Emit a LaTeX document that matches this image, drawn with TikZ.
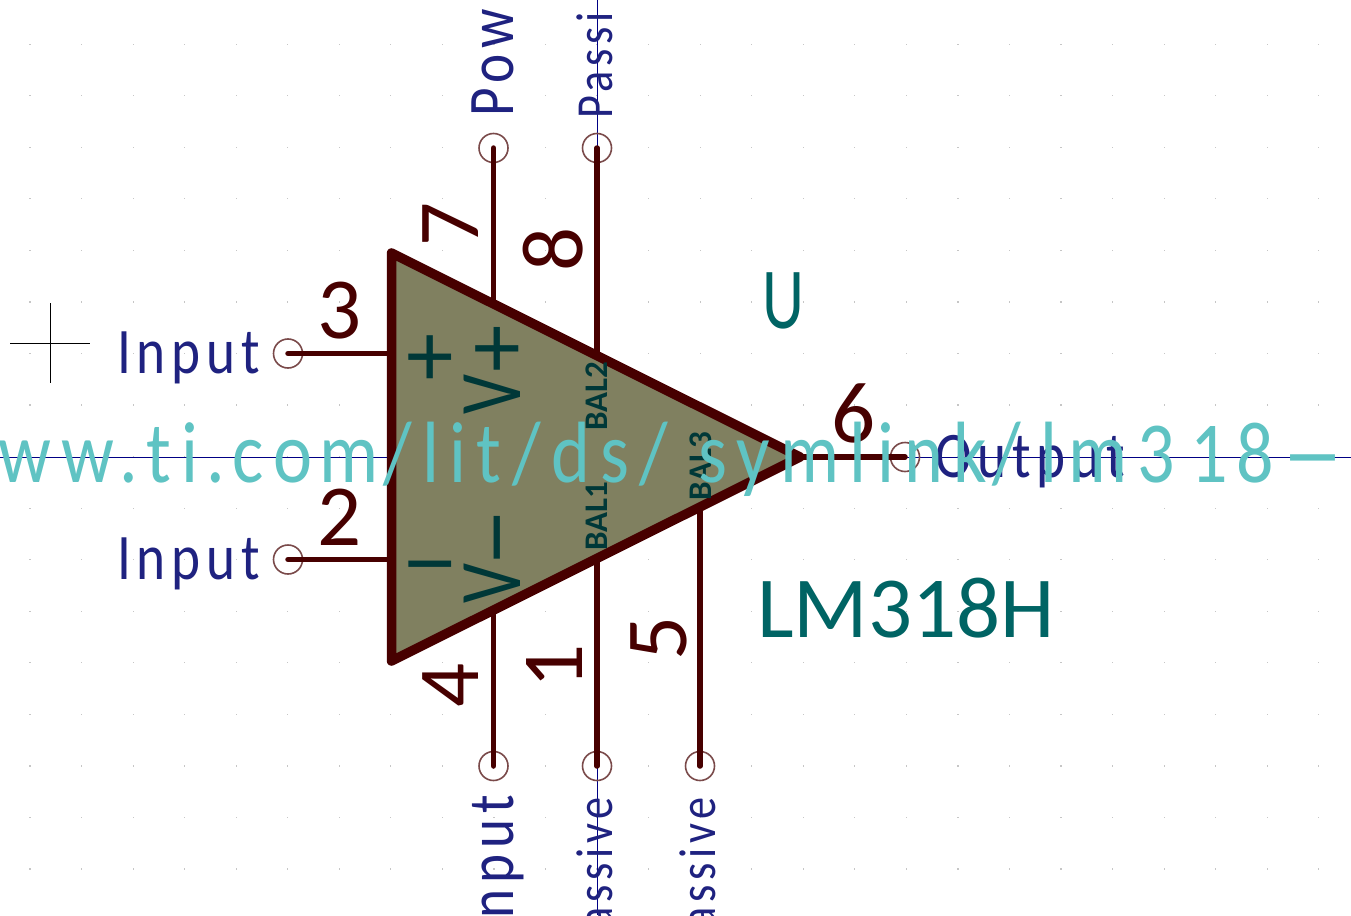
\documentclass[tikz,border=0pt]{standalone}
\usepackage{fontspec}
\setmainfont[Ligatures=NoCommon]{Carlito}
\newfontfamily\urlfont[Ligatures=NoCommon, FakeStretch=0.85, LetterSpace=12]{Carlito}
\newfontfamily\typefont[Ligatures=NoCommon, FakeStretch=0.85, LetterSpace=9]{Carlito}
\newfontfamily\signfont{Liberation Sans}
\usepackage{xcolor}
\usetikzlibrary{calc}
\definecolor{wirecol}{HTML}{470000}
\definecolor{bodycol}{HTML}{808060}
\definecolor{pinringcol}{HTML}{7A4A4A}
\definecolor{typecol}{HTML}{1F2280}
\definecolor{axiscol}{HTML}{000084}
\definecolor{innercol}{HTML}{003838}
\definecolor{refcol}{HTML}{006464}
\definecolor{urlcol}{HTML}{5FC3C3}

\begin{document}
\begin{tikzpicture}[x=1pt, y=-1pt,
    pinring/.style={circle, draw=pinringcol, line width=1.6pt, minimum size=29pt, inner sep=0pt},
    wire/.style={draw=wirecol, line width=5.5pt, line cap=round},
    pintype/.style={text=typecol, inner sep=0pt, anchor=base west, font=\typefont\fontsize{65}{70}\selectfont},
    pintypesmall/.style={pintype, font=\typefont\fontsize{52}{60}\selectfont},
    pinnum/.style={text=wirecol, inner sep=0pt, anchor=base west, font=\fontsize{87}{90}\selectfont},
    inner/.style={text=innercol, inner sep=0pt, anchor=base west, font=\fontsize{88}{90}\selectfont},
    sign/.style={inner, font=\signfont\fontsize{88}{90}\selectfont},
    balname/.style={text=innercol, inner sep=0pt, anchor=base west, rotate=90, font=\bfseries\fontsize{33}{40}\selectfont},
    refname/.style={text=refcol, inner sep=0pt, anchor=base west, font=\fontsize{87}{90}\selectfont}]
    \useasboundingbox (0,0) rectangle (1351,915);
    \clip (0,0) rectangle (1351,915);
    \fill[white] (0,0) rectangle (1351,915);

    % Griglia di punti
    \foreach \i in {0,...,25} {
        \foreach \j in {-6,...,10} {
            \fill[gray!45] ({30+51.55*\i-0.6},{353.5+51.55*\j-0.6}) rectangle +(1.2,1.2);
        }
    }

    % Assi e croce
    \draw[axiscol, line width=1pt] (0,457) -- (1351,457);
    \draw[axiscol, line width=1pt] (597,0) -- (597,915);
    \draw[black, line width=0.8pt] (10,343) -- (90,343);
    \draw[black, line width=0.8pt] (50,303) -- (50,383);

    % Vertici del triangolo e attacchi dei pin
    \coordinate (topleft) at (391.5,253);
    \coordinate (botleft) at (391.5,661);
    \coordinate (tip) at (800,457);
    \coordinate (end3) at (391.5,353.5);
    \coordinate (end2) at (391.5,559.5);
    \coordinate (end7) at (493.5,304);
    \coordinate (end8) at (597,356);
    \coordinate (end4) at (493.5,610);
    \coordinate (end1) at (597,558);
    \coordinate (end5) at (700,506);

    % Cerchietti dei pin
    \node[pinring] (pin3) at (288,353.5) {};
    \node[pinring] (pin2) at (288,559.5) {};
    \node[pinring] (pin7) at (493.5,148) {};
    \node[pinring] (pin8) at (597,148) {};
    \node[pinring] (pin4) at (493.5,766) {};
    \node[pinring] (pin1) at (597,766) {};
    \node[pinring] (pin5) at (700,766) {};
    \node[pinring] (pin6) at (905,457) {};

    % Pin
    \draw[wire] (pin3.center) -- (end3);
    \draw[wire] (pin2.center) -- (end2);
    \draw[wire] (pin7.center) -- (end7);
    \draw[wire] (pin8.center) -- (end8);
    \draw[wire] (pin4.center) -- (end4);
    \draw[wire] (pin1.center) -- (end1);
    \draw[wire] (pin5.center) -- (end5);
    \draw[wire] (pin6.center) -- (tip);

    % Corpo
    \filldraw[draw=wirecol, fill=bodycol, line width=9.5pt, line join=round]
        (topleft) -- (tip) -- (botleft) -- cycle;

    % Tipi dei pin
    \node[pintype] (type3) at (117,373) {Input};
    \node[pintype] (type2) at (117,579) {Input};
    \node[pintype] (type6) at (935,477) {Output};
    \node[pintype, rotate=90] (type7) at (513,117) {Pow};
    \node[pintypesmall, rotate=90] (type8) at (612,119) {Passi};
    \node[pintype, rotate=90, anchor=base east] (type4) at (513,795) {nput};
    \node[pintypesmall, rotate=90, anchor=base east] (type1) at (612,797) {assive};
    \node[pintypesmall, rotate=90, anchor=base east] (type5) at (715,797) {assive};

    % Numeri dei pin
    \node[pinnum] (num3) at (317,338) {3};
    \node[pinnum] (num2) at (317,545) {2};
    \node[pinnum] (num6) at (831,442) {6};
    \node[pinnum, rotate=90] (num7) at (478,247) {7};
    \node[pinnum, rotate=90] (num8) at (582,272) {8};
    \node[pinnum, rotate=90] (num4) at (478,708) {4};
    \node[pinnum, rotate=90] (num1) at (582,689) {1};
    \node[pinnum, rotate=90] (num5) at (686,661) {5};

    % Nomi interni
    \node[sign] (plus) at (404,386) {+};
    \node[sign] (minus) at (404,593) {−};
    \node[inner, rotate=90] (vplus) at (520,415)
        {\scalebox{.8}[1]{V}\raisebox{-6pt}{\signfont +}};
    \node[inner, rotate=90] (vminus) at (520,604)
        {\scalebox{.8}[1]{V}\raisebox{-6pt}{\signfont −}};
    \node[balname] (bal2) at (607,431) {BAL2};
    \node[balname] (bal1) at (607,551) {BAL1};
    \node[balname] (bal3) at (711,501) {BAL3};

    % Riferimento e valore
    \node[refname] (refdes) at (762,328) {\scalebox{.75}[1]{U}};
    \node[refname] (value) at (757,637) {LM318H};

    % Indirizzo in sovrimpressione
    \node[inner sep=0pt, anchor=base west, text=urlcol, font=\urlfont\fontsize{87}{90}\selectfont] (url) at (-2,482)
        {ww\kern5pt.\kern8pt ti\kern8pt.\kern7pt co\kern7pt m\kern5pt/lit/ds/\kern30pt symlink\kern5pt/\kern20pt lm3\kern15pt 1\kern9pt 8\kern9pt \scalebox{2.6}[1]{-}};
\end{tikzpicture}
\end{document}
